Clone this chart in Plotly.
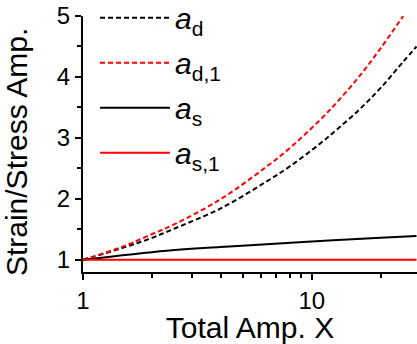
import plotly.graph_objects as go

# Data
x_ad = [1, 1.5, 1.97, 2.5, 3.98, 6.25, 8, 10.9, 13, 16.3, 20, 25.1, 28.7]
y_ad = [1, 1.2, 1.35, 1.51, 1.84, 2.27, 2.53, 2.91, 3.15, 3.48, 3.82, 4.25, 4.5]

x_ad1 = [1, 1.5, 1.97, 2.5, 3.98, 6.25, 8, 10.9, 13, 16.3, 20, 25.1]
y_ad1 = [1, 1.22, 1.41, 1.58, 1.99, 2.51, 2.83, 3.30, 3.6, 4.03, 4.47, 5.0]

x_as = [1, 2.32, 3.98, 5.38, 12.4, 20, 28.7]
y_as = [1, 1.15, 1.21, 1.24, 1.32, 1.36, 1.39]

x_as1 = [1, 28.7]
y_as1 = [1, 1]

names = ["<i>a</i><sub>d</sub>", "<i>a</i><sub>d,1</sub>",
         "<i>a</i><sub>s</sub>", "<i>a</i><sub>s,1</sub>"]

FONT = "Liberation Sans, Arial, sans-serif"
fig = go.Figure()
fig.add_trace(go.Scatter(x=x_ad, y=y_ad, mode="lines", name=names[0], line_shape="spline",
                         line=dict(color="black", width=2, dash="5px,3px"), legendgroup="1"))
fig.add_trace(go.Scatter(x=x_ad1, y=y_ad1, mode="lines", name=names[1], line_shape="spline",
                         line=dict(color="red", width=2, dash="5px,3px"), legendgroup="2"))
fig.add_trace(go.Scatter(x=x_as, y=y_as, mode="lines", name=names[2], line_shape="spline",
                         line=dict(color="black", width=2), legendgroup="3"))
fig.add_trace(go.Scatter(x=x_as1, y=y_as1, mode="lines", name=names[3],
                         line=dict(color="red", width=2), legendgroup="4"))

fig.update_layout(
    width=417, height=344,
    margin=dict(l=83, r=0, t=16, b=72, autoexpand=False),
    paper_bgcolor="white", plot_bgcolor="white",
    font=dict(family=FONT, color="black"),
    showlegend=True,
    legend=dict(x=0.036, y=1.095, xanchor="left", yanchor="top",
                font=dict(size=30, family=FONT), itemwidth=70, maxheight=400,
                bgcolor="rgba(0,0,0,0)", tracegroupgap=3),
    annotations=[dict(text="Strain/Stress Amp.", textangle=-90, xref="paper", yref="paper",
                      x=-0.144, y=0.47, xanchor="right", yanchor="middle", showarrow=False,
                      font=dict(size=30, family=FONT))],
)
fig.update_xaxes(type="log", range=[0, 1.46], showline=True, linecolor="black", linewidth=2,
                 ticks="outside", ticklen=6, tickwidth=1.5, tickcolor="black",
                 tickvals=[1, 10], ticktext=["1", "10"],
                 minor=dict(tickvals=[2, 3, 4, 5, 6, 7, 8, 9, 20], ticks="outside", ticklen=4,
                            tickwidth=1.5, tickcolor="black"),
                 tickfont=dict(size=24, family=FONT), showgrid=False, zeroline=False,
                 title=dict(text="Total Amp. X", font=dict(size=30, family=FONT), standoff=4))
fig.update_yaxes(range=[0.8, 5], showline=True, linecolor="black", linewidth=2,
                 ticks="outside", ticklen=6, tickwidth=1.5, tickcolor="black",
                 tickvals=[1, 2, 3, 4, 5],
                 minor=dict(tickvals=[1.5, 2.5, 3.5, 4.5], ticks="outside", ticklen=4,
                            tickwidth=1.5, tickcolor="black"),
                 tickfont=dict(size=24, family=FONT), showgrid=False, zeroline=False)

fig.write_html("out.html")
